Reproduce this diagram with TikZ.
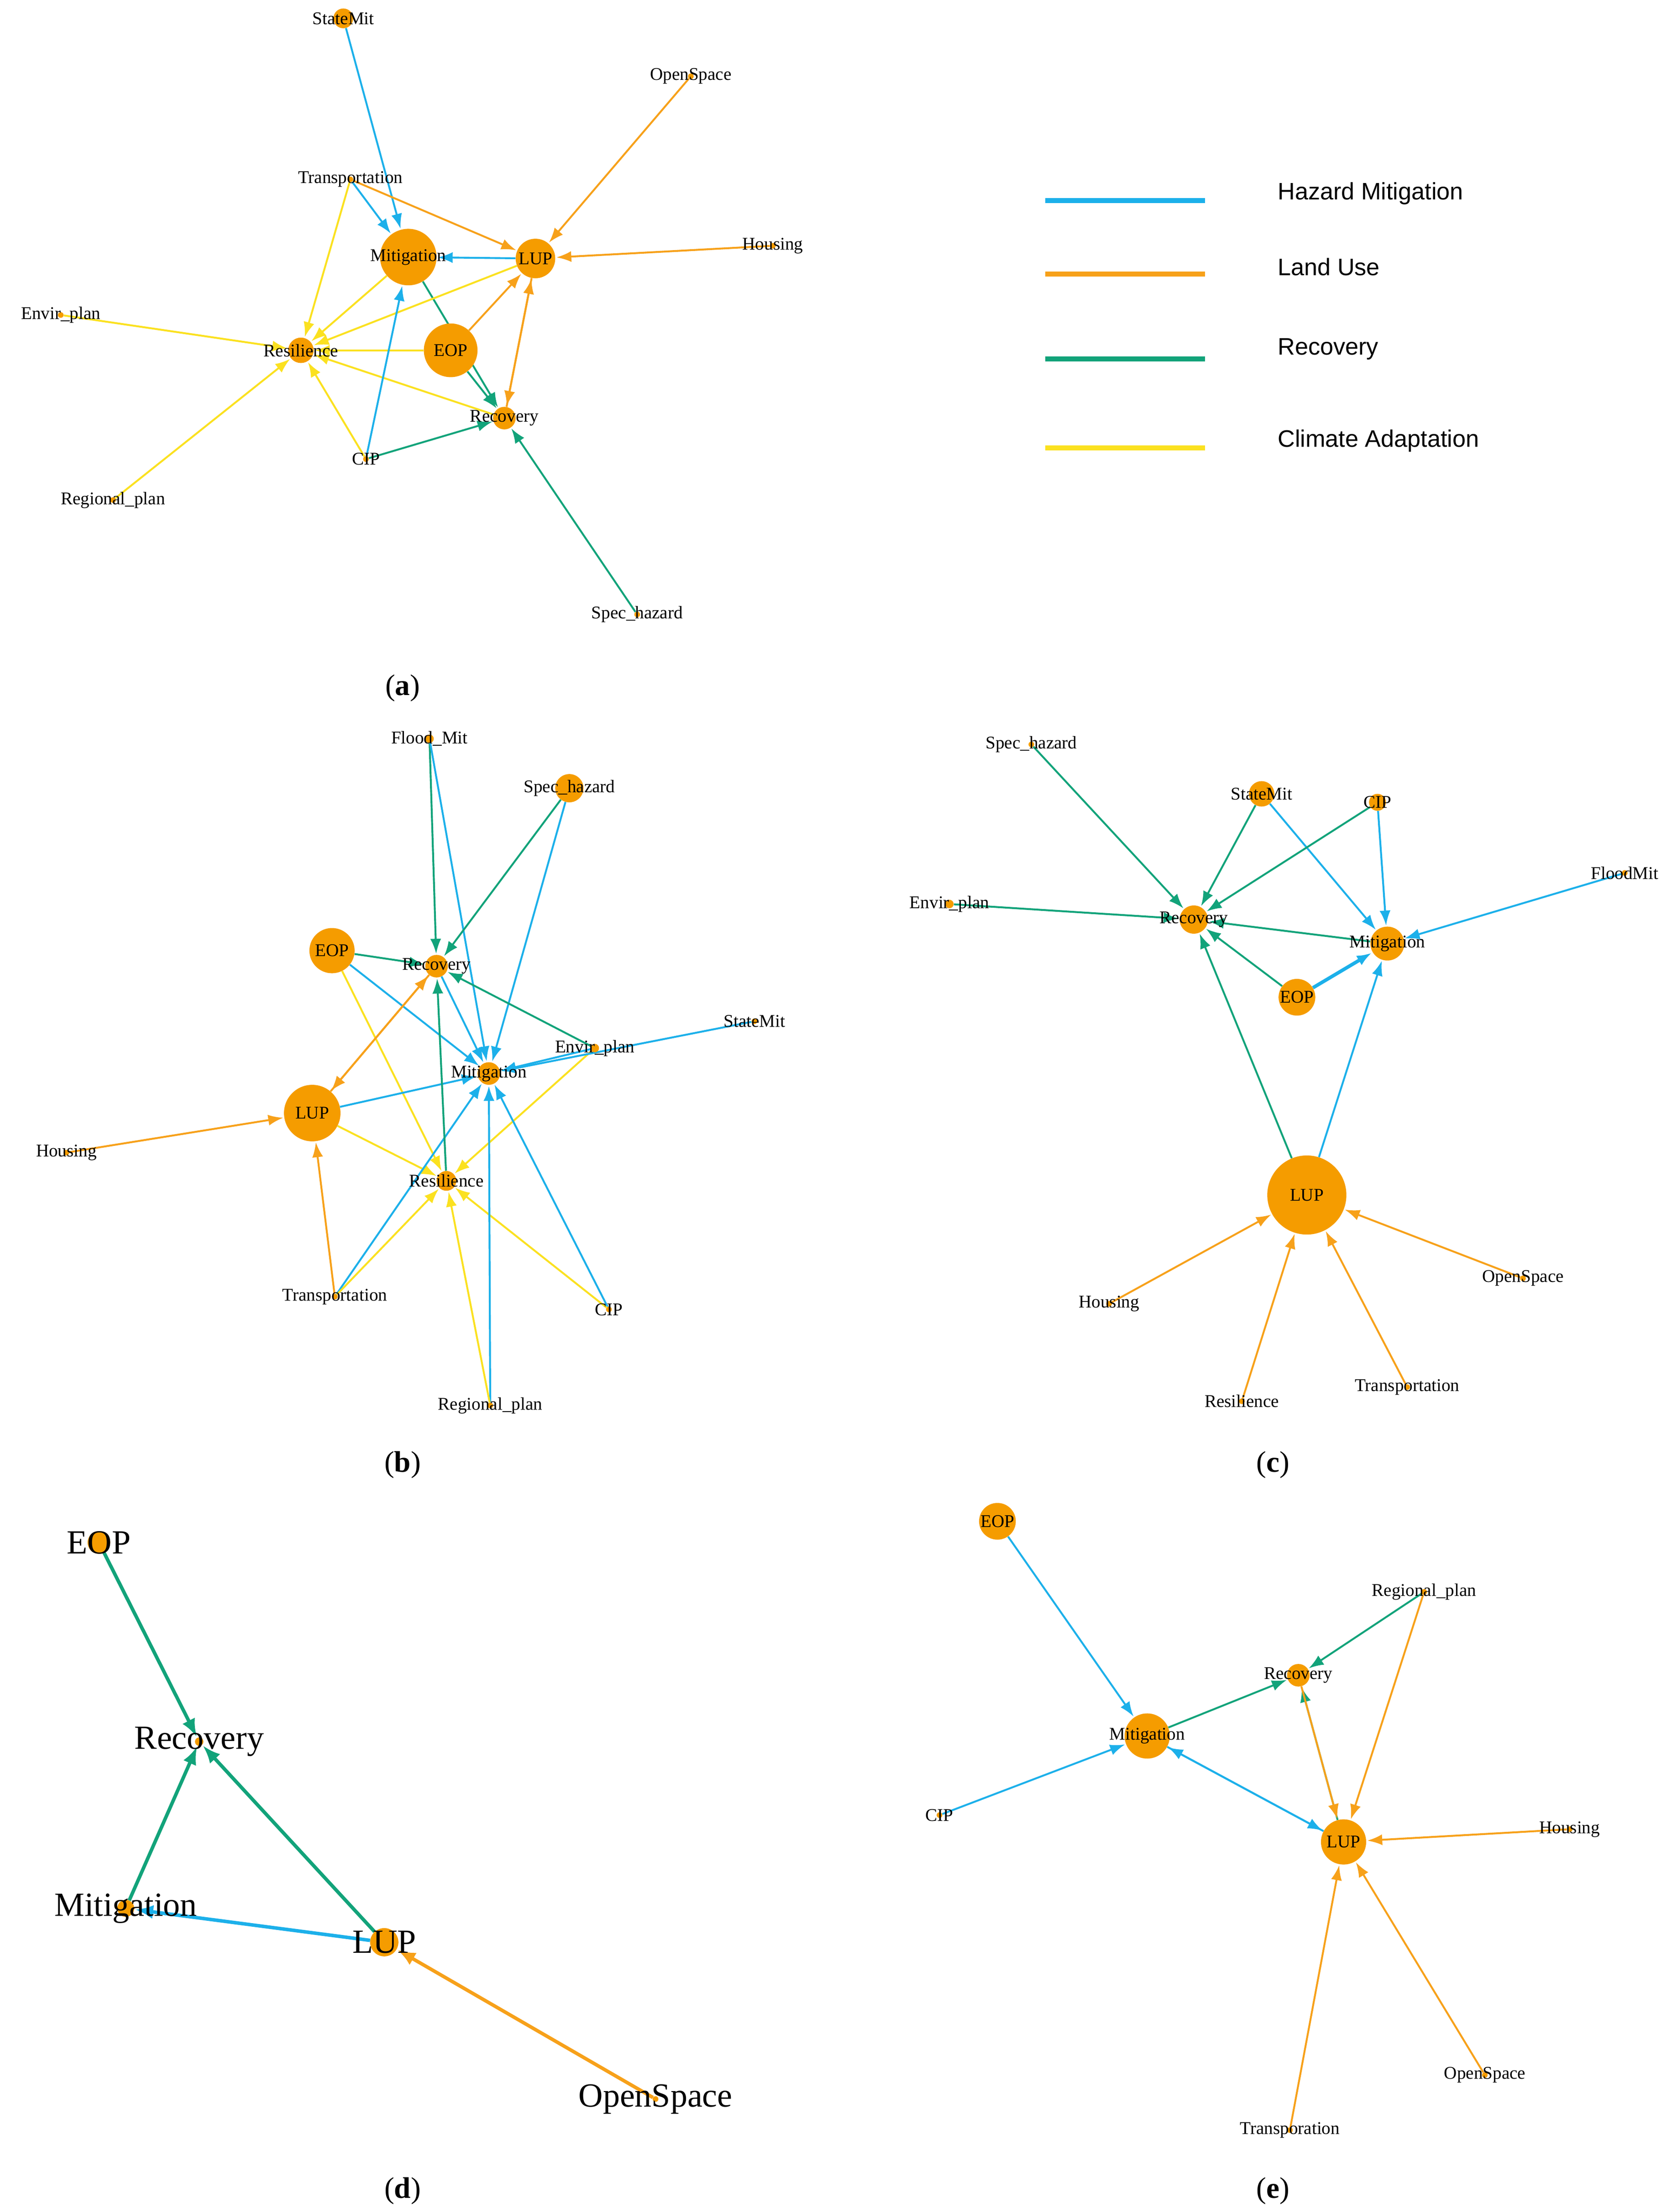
\documentclass[tikz,border=0pt]{standalone}
\usepackage{fontspec}
\setmainfont{Liberation Serif}
\newfontfamily\lsans{Liberation Sans}
\usetikzlibrary{arrows.meta}
\pgfdeclarelayer{bg}
\pgfdeclarelayer{edges}
\pgfsetlayers{bg,edges,main}
\definecolor{cb}{HTML}{1CB0EA}
\definecolor{co}{HTML}{F7A11A}
\definecolor{cg}{HTML}{12A37A}
\definecolor{cy}{HTML}{FBE120}
\definecolor{cn}{HTML}{F59C00}
\tikzset{
 vc/.style={circle,fill=cn,inner sep=0pt},
 lab/.style={font=\fontsize{18}{18}\selectfont,inner sep=0pt},
 big/.style={font=\fontsize{34}{34}\selectfont,inner sep=0pt},
 e/.style={line width=1.9pt,-{Latex[length=15pt,width=11pt]},shorten >=1pt},
 hm/.style={e,draw=cb,color=cb},
 lu/.style={e,draw=co,color=co},
 rc/.style={e,draw=cg,color=cg},
 ca/.style={e,draw=cy,color=cy},
 thick2/.style={line width=3.5pt,-{Latex[length=18pt,width=14pt]}},
 leg/.style={line width=5pt},
 legt/.style={font=\lsans\fontsize{24}{24}\selectfont,anchor=west},
 pcap/.style={font=\fontsize{30}{30}\selectfont}
}
\newcommand\vx[5]{\node[vc,minimum size=#4*0.05cm] (#1) at (#2,#3) {};\node[lab] at (#2,#3) {#5};}
\newcommand\vb[5]{\node[vc,minimum size=#4*0.05cm] (#1) at (#2,#3) {};\node[big] at (#2,#3) {#5};}
\newcommand\ed[3]{\begin{pgfonlayer}{edges}\draw[#1] (#2) -- (#3);\end{pgfonlayer}}
\begin{document}
\begin{tikzpicture}[x=0.05cm,y=-0.05cm]
\begin{pgfonlayer}{bg}\fill[white] (0,0) rectangle (1187,1566);\end{pgfonlayer}
\useasboundingbox (0,0) rectangle (1187,1566);
% ---------- (a)
\vx{aSM}{243}{13}{14}{StateMit}
\vx{aOS}{489}{54}{4}{OpenSpace}
\vx{aTr}{248}{127}{4}{Transportation}
\vx{aMi}{289}{182}{40}{Mitigation}
\vx{aLU}{379}{183}{28}{LUP}
\vx{aHo}{547}{174}{4}{Housing}
\vx{aEn}{43}{223}{4}{Envir\_plan}
\vx{aRe}{213}{248}{18}{Resilience}
\vx{aEO}{319}{248}{38}{EOP}
\vx{aRc}{357}{296}{16}{Recovery}
\vx{aCI}{259}{325}{4}{CIP}
\vx{aRp}{80}{354}{4}{Regional\_plan}
\vx{aSh}{451}{435}{4}{Spec\_hazard}
\node[pcap] at (285,487) {(\textbf{a})};
\ed{hm}{aSM}{aMi}
\ed{lu}{aOS}{aLU}
\ed{hm}{aTr}{aMi}
\ed{lu}{aTr}{aLU}
\ed{ca}{aTr}{aRe}
\ed{lu}{aHo}{aLU}
\ed{hm}{aLU}{aMi}
\ed{rc}{aMi}{aRc}
\ed{rc}{aEO}{aRc}
\ed{lu}{aEO}{aLU}
\ed{lu}{aRc}{aLU}
\ed{lu}{aLU}{aRc}
\ed{ca}{aMi}{aRe}
\ed{ca}{aLU}{aRe}
\ed{ca}{aEO}{aRe}
\ed{ca}{aRc}{aRe}
\ed{ca}{aCI}{aRe}
\ed{ca}{aEn}{aRe}
\ed{ca}{aRp}{aRe}
\ed{hm}{aCI}{aMi}
\ed{rc}{aCI}{aRc}
\ed{rc}{aSh}{aRc}
% legend
\draw[leg,cb] (740,142) -- (853,142); \node[legt] at (902,137) {Hazard Mitigation};
\draw[leg,co] (740,194) -- (853,194); \node[legt] at (902,189) {Land Use};
\draw[leg,cg] (740,254) -- (853,254); \node[legt] at (902,247) {Recovery};
\draw[leg,cy] (740,317) -- (853,317); \node[legt] at (902,312) {Climate Adaptation};
% ---------- (b)
\vx{bFM}{304}{523}{6}{Flood\_Mit}
\vx{bSh}{403}{558}{20}{Spec\_hazard}
\vx{bEO}{235}{673}{32}{EOP}
\vx{bRc}{309}{684}{16}{Recovery}
\vx{bSM}{534}{723}{4}{StateMit}
\vx{bEn}{421}{742}{6}{Envir\_plan}
\vx{bMi}{346}{760}{16}{Mitigation}
\vx{bLU}{221}{788}{40}{LUP}
\vx{bHo}{47}{816}{4}{Housing}
\vx{bRe}{316}{836}{14}{Resilience}
\vx{bTr}{237}{918}{4}{Transportation}
\vx{bCI}{431}{927}{4}{CIP}
\vx{bRp}{347}{995}{4}{Regional\_plan}
\node[pcap] at (285,1037) {(\textbf{b})};
\ed{rc}{bFM}{bRc}
\ed{hm}{bFM}{bMi}
\ed{rc}{bSh}{bRc}
\ed{hm}{bSh}{bMi}
\ed{rc}{bEO}{bRc}
\ed{hm}{bEO}{bMi}
\ed{ca}{bEO}{bRe}
\ed{lu}{bRc}{bLU}
\ed{lu}{bLU}{bRc}
\ed{hm}{bRc}{bMi}
\ed{rc}{bEn}{bRc}
\ed{hm}{bEn}{bMi}
\ed{ca}{bEn}{bRe}
\ed{hm}{bSM}{bMi}
\ed{hm}{bLU}{bMi}
\ed{ca}{bLU}{bRe}
\ed{lu}{bHo}{bLU}
\ed{lu}{bTr}{bLU}
\ed{hm}{bTr}{bMi}
\ed{ca}{bTr}{bRe}
\ed{rc}{bRe}{bRc}
\ed{hm}{bCI}{bMi}
\ed{ca}{bCI}{bRe}
\ed{hm}{bRp}{bMi}
\ed{ca}{bRp}{bRe}
% ---------- (c)
\vx{cSh}{730}{527}{4}{Spec\_hazard}
\vx{cSM}{893}{562}{18}{StateMit}
\vx{cCI}{975}{568}{12}{CIP}
\vx{cFM}{1150}{618}{4}{FloodMit}
\vx{cEn}{672}{640}{6}{Envir\_plan}
\vx{cRc}{845}{651}{20}{Recovery}
\vx{cMi}{982}{668}{24}{Mitigation}
\vx{cEO}{918}{706}{26}{EOP}
\vx{cLU}{925}{846}{56}{LUP}
\vx{cHo}{785}{923}{4}{Housing}
\vx{cOS}{1078}{905}{4}{OpenSpace}
\vx{cRe}{879}{992}{4}{Resilience}
\vx{cTr}{996}{982}{4}{Transportation}
\node[pcap] at (901,1037) {(\textbf{c})};
\ed{rc}{cSh}{cRc}
\ed{rc}{cSM}{cRc}
\ed{hm}{cSM}{cMi}
\ed{rc}{cCI}{cRc}
\ed{hm}{cCI}{cMi}
\ed{hm}{cFM}{cMi}
\ed{rc}{cEn}{cRc}
\ed{rc}{cMi}{cRc}
\ed{rc}{cEO}{cRc}
\ed{hm,line width=3.5pt}{cEO}{cMi}
\ed{rc}{cLU}{cRc}
\ed{hm}{cLU}{cMi}
\ed{lu}{cHo}{cLU}
\ed{lu}{cOS}{cLU}
\ed{lu}{cRe}{cLU}
\ed{lu}{cTr}{cLU}
% ---------- (d)
\vb{dEO}{70}{1092}{16}{EOP}
\vb{dRc}{141}{1233}{6}{Recovery}
\vb{dMi}{89}{1351}{12}{Mitigation}
\vb{dLU}{272}{1375}{20}{LUP}
\vb{dOS}{464}{1486}{4}{OpenSpace}
\node[pcap] at (285,1551) {(\textbf{d})};
\ed{rc,thick2}{dEO}{dRc}
\ed{rc,thick2}{dMi}{dRc}
\ed{rc,thick2}{dLU}{dRc}
\ed{hm,thick2}{dLU}{dMi}
\ed{lu,thick2}{dOS}{dLU}
% ---------- (e)
\vx{eEO}{706}{1077}{26}{EOP}
\vx{eRp}{1008}{1127}{4}{Regional\_plan}
\vx{eRc}{919}{1186}{16}{Recovery}
\vx{eMi}{812}{1229}{32}{Mitigation}
\vx{eCI}{665}{1285}{4}{CIP}
\vx{eLU}{951}{1304}{32}{LUP}
\vx{eHo}{1111}{1295}{4}{Housing}
\vx{eOS}{1051}{1469}{4}{OpenSpace}
\vx{eTr}{913}{1508}{4}{Transporation}
\node[pcap] at (901,1551) {(\textbf{e})};
\ed{hm}{eEO}{eMi}
\ed{hm}{eCI}{eMi}
\ed{rc}{eMi}{eRc}
\ed{rc}{eRp}{eRc}
\ed{lu}{eRp}{eLU}
\ed{rc}{eLU}{eRc}
\ed{lu}{eRc}{eLU}
\ed{hm}{eMi}{eLU}
\ed{hm}{eLU}{eMi}
\ed{lu}{eHo}{eLU}
\ed{lu}{eOS}{eLU}
\ed{lu}{eTr}{eLU}
\end{tikzpicture}
\end{document}
